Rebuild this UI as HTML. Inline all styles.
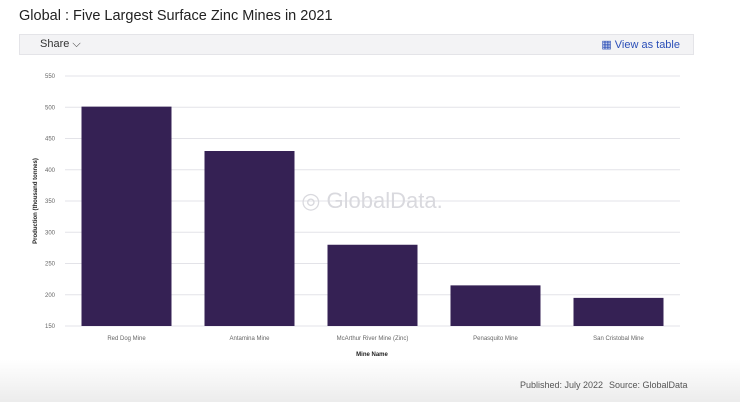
<!DOCTYPE html>
<html><head><meta charset="utf-8"><style>
body{margin:0;width:740px;height:402px;overflow:hidden;background:#fff;font-family:"Liberation Sans",sans-serif;position:relative}
.title{position:absolute;left:19px;top:8px;font-size:14.5px;color:#222}
.bar{position:absolute;left:19px;top:34px;width:673px;height:19px;background:#f3f3f5;border:1px solid #e4e4e8}
.share{position:absolute;left:20px;top:3px;font-size:11px;color:#333}
.vt{position:absolute;right:13px;top:3px;font-size:11px;color:#2b4fb8}
.foot{position:absolute;left:0;top:360px;width:740px;height:42px;background:linear-gradient(#fff,#ececec)}
.pub{position:absolute;left:520px;top:380px;font-size:9px;color:#555}
.src{position:absolute;left:609px;top:380px;font-size:9px;color:#555}
</style></head><body>
<div class="title">Global : Five Largest Surface Zinc Mines in 2021</div>
<div class="bar">
<span class="share">Share ⌵</span>
<span class="vt">▦ View as table</span>
</div>
<div class="foot"></div>
<div class="pub">Published: July 2022</div>
<div class="src">Source: GlobalData</div>
<svg id="chart" width="740" height="402" style="position:absolute;left:0;top:0"></svg>
<script>
const categories=["Red Dog Mine","Antamina Mine","McArthur River Mine (Zinc)","Penasquito Mine","San Cristobal Mine"];
const values=[501,430,280,215,195];
const ticks=[150,200,250,300,350,400,450,500,550];
const svg=document.getElementById('chart');
const NS='http://www.w3.org/2000/svg';
const x0=65,x1=680,yTop=76,yBot=326,ymin=150,ymax=550;
const y=v=>yBot-(v-ymin)/(ymax-ymin)*(yBot-yTop);
const bw=(x1-x0)/categories.length;
function mk(t,a){const e=document.createElementNS(NS,t);for(const k in a)e.setAttribute(k,a[k]);svg.appendChild(e);return e;}
ticks.forEach(t=>{
const l=mk('line',{x1:x0,x2:x1,y1:y(t),y2:y(t),stroke:'#e3e3e8','stroke-width':1});


const tx=mk('text',{x:55,y:y(t)+2,'font-size':6,fill:'#666','text-anchor':'end','font-family':'Liberation Sans'});
tx.textContent=t;


});
const wm=mk('text',{x:372,y:208,'font-size':22,fill:'#d9d9de','text-anchor':'middle','font-family':'Liberation Sans'});
wm.textContent='◎ GlobalData.';


categories.forEach((c,i)=>{
const cx=x0+bw*(i+0.5);
const r=mk('rect',{x:cx-45,y:y(values[i]),width:90,height:yBot-y(values[i]),fill:'#352154'});


const t=mk('text',{x:cx,y:340,'font-size':6,fill:'#666','text-anchor':'middle','font-family':'Liberation Sans'});
t.textContent=c;


});
const xt=mk('text',{x:372,y:356,'font-size':6,fill:'#222','font-weight':'bold','text-anchor':'middle','font-family':'Liberation Sans'});
xt.textContent='Mine Name';


const yt=mk('text',{x:0,y:0,'font-size':6,fill:'#222','font-weight':'bold','text-anchor':'middle','font-family':'Liberation Sans',transform:'translate(37,201) rotate(-90)'});
yt.textContent='Production (thousand tonnes)';


</script>
</body></html>
